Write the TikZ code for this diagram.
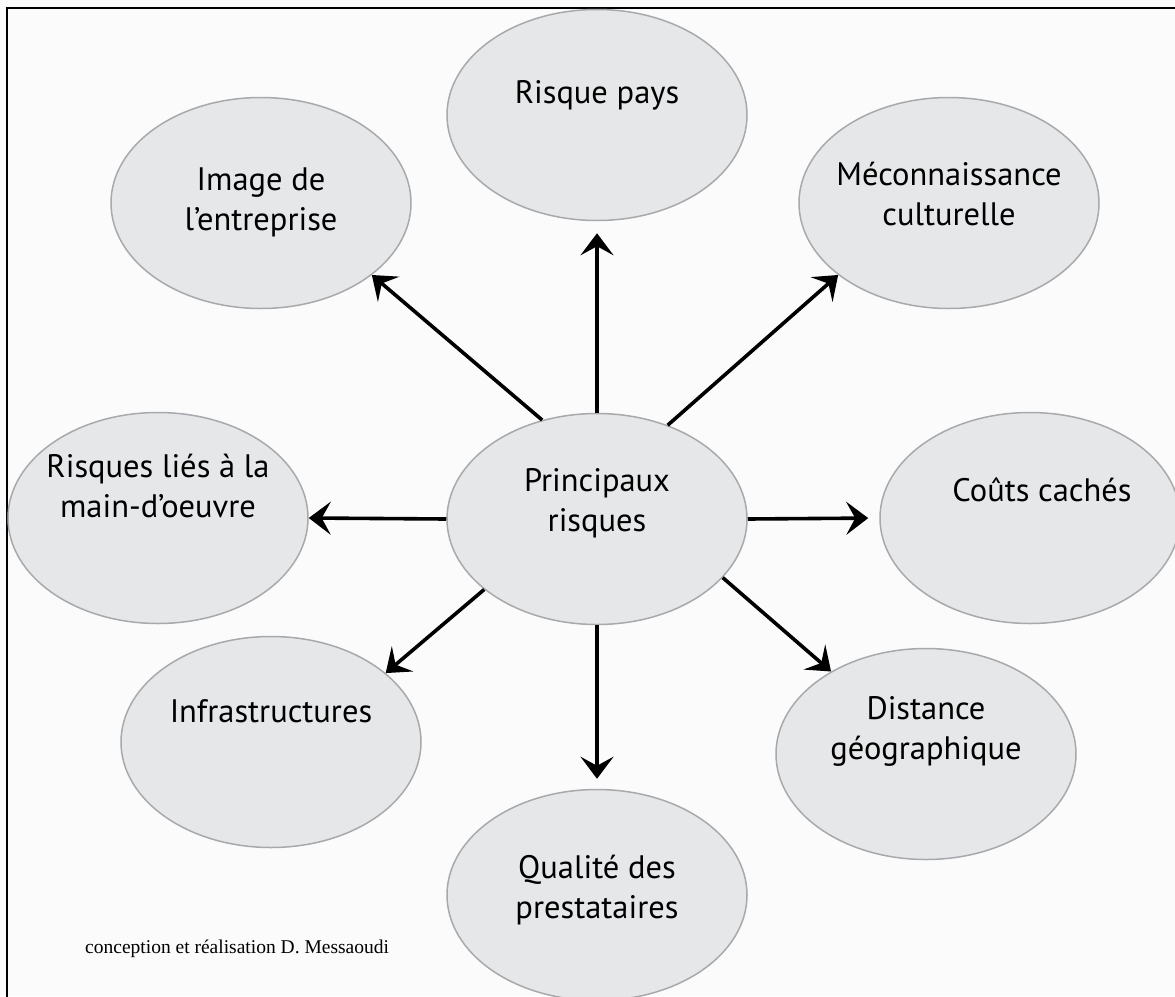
\documentclass[tikz,border=0pt]{standalone}
\usepackage{fontspec}
\setmainfont{PT Sans}
\newfontfamily\creditfont{Liberation Serif}
\usetikzlibrary{arrows.meta,shapes.geometric}

\definecolor{bubblefill}{HTML}{E6E7E8}
\definecolor{bubbleline}{HTML}{A7A9AC}
\definecolor{paper}{HTML}{FBFBFB}

\begin{document}
\begin{tikzpicture}[x=1pt, y=-1pt,
  risk/.style={ellipse, draw=bubbleline, line width=1.5pt, fill=bubblefill,
    minimum width=300pt, minimum height=211pt, inner sep=-40pt,
    align=center, font=\fontsize{32.5}{40}\selectfont},
  arrow/.style={line width=3.6pt, -{Stealth[length=22pt, width=33pt, inset=9pt]}}]

\def\width{1175}
\def\height{996}

\path [use as bounding box] (0,0) rectangle (\width,\height);
\fill [paper] (0,0) rectangle (\width,\height);

% FRAME
\draw [line width=1.5pt] (7,\height+5) -- (7,8) -- (\width+5,8);

% SHAPES
\node [risk, text depth=38pt] (main) at (597,519) {Principaux\\risques};
\node [risk, text depth=46pt] (pays) at (597,115) {Risque pays};
\node [risk, text depth=8pt] (image) at (261,203) {Image de\\l’entreprise};
\node [risk, text depth=19pt] (culture) at (949,203) {Méconnaissance\\culturelle};
\node [risk, text depth=64pt] (oeuvre) at (158,518) {Risques liés à la\\main-d’oeuvre};
\node [risk, text depth=56pt] (couts) at (1030,518) {\hspace*{24pt}Coûts cachés};
\node [risk, text depth=62pt] (infra) at (271,742) {Infrastructures};
\node [risk, text depth=52pt] (distance) at (926,754) {Distance\\géographique};
\node [risk, text depth=16pt] (qualite) at (597,895) {Qualité des\\prestataires};

% ARROWS
\draw [arrow, shorten >=12pt] (main.north) -- (pays.south);
\draw [arrow] (main.119) -- (image.-33);
\draw [arrow] (main.53) -- (culture.213);
\draw [arrow, shorten >=11pt] (main.east) -- (couts.west);
\draw [arrow] (main.-25) -- (distance.139);
\draw [arrow, shorten >=10pt] (main.south) -- (qualite.north);
\draw [arrow] (main.212) -- (infra.31);
\draw [arrow] (main.west) -- (oeuvre.east);

% CREDIT
\node [anchor=base west, inner sep=0pt, font=\creditfont\fontsize{19.5}{23}\selectfont] (credit) at (85,953) {conception et réalisation D. Messaoudi};

\end{tikzpicture}
\end{document}
